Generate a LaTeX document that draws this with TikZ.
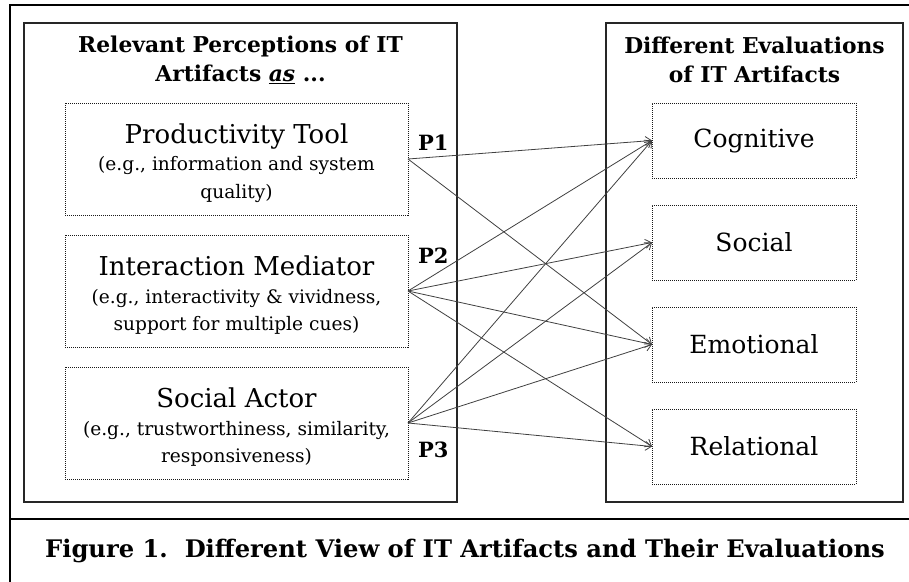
\documentclass[tikz,border=0pt]{standalone}
\usepackage{fontspec}
\setmainfont{DejaVu Serif}
\usepackage{tikz}
\usetikzlibrary{positioning,arrows.meta}

\newcommand{\namefont}{\fontsize{26}{27}\selectfont\rule{0pt}{28pt}}
\newcommand{\exfont}{\fontsize{18.6}{27.5}\selectfont}

\begin{document}
\begin{tikzpicture}[
    x=1pt, y=1pt,
    node distance=20pt,
    panel/.style={rectangle, draw=black!85, line width=1.1pt, minimum height=479pt, outer sep=0pt},
    percbox/.style={rectangle, draw=black!90, densely dotted, line width=1pt, minimum width=343pt, minimum height=112pt, align=center, inner sep=2pt, outer sep=0pt, font=\exfont},
    evalbox/.style={rectangle, draw=black!90, densely dotted, line width=1pt, minimum width=204pt, minimum height=75pt, align=center, outer sep=0pt, font=\fontsize{25}{30}\selectfont},
    head/.style={align=center, font=\fontsize{21.8}{29}\selectfont\bfseries},
    plabel/.style={font=\fontsize{21}{25}\selectfont\bfseries, inner sep=0pt},
    link/.style={-{Straight Barb[length=6pt,width=9pt]}, draw=black!75, line width=0.8pt}
]
\useasboundingbox (0,0) rectangle (909,-581);
\clip (0,0) rectangle (909,-581);

% Frame and caption bar
\draw[line width=2.2pt] (10,-5) rectangle (920,-600);
\draw[line width=2.2pt] (10,-519) -- (920,-519);

% Panels
\node[panel, minimum width=433pt] (lpanel) at (240.5,-262.5) {};
\node[panel, minimum width=297pt] (rpanel) at (754.5,-262.5) {};

% Headings
\node[head] (lhead) at (240.5,-60) {Relevant Perceptions of IT\\Artifacts \underline{\textit{as}} ...};
\node[head] (rhead) at (754.5,-60) {Different Evaluations\\of IT Artifacts};

% Perceptions
\node[percbox] (prod) at (236.5,-159) {{\namefont Productivity Tool}\\
    (e.g., information and system\\ quality)};
\node[percbox, below=of prod] (inter) {{\namefont Interaction Mediator}\\
    (e.g., interactivity \& vividness,\\ support for multiple cues)};
\node[percbox, below=of inter] (actor) {{\namefont Social Actor}\\
    (e.g., trustworthiness, similarity,\\ responsiveness)};

% Evaluations
\node[evalbox] (cog) at (754,-140.5) {Cognitive};
\node[evalbox, below=27pt of cog] (soc) {Social};
\node[evalbox, below=27pt of soc] (emo) {Emotional};
\node[evalbox, below=27pt of emo] (rel) {Relational};

% Propositions
\node[plabel, anchor=west] (p1) at ([xshift=10pt,yshift=16pt]prod.east) {P1};
\node[plabel, anchor=west] (p2) at ([xshift=10pt,yshift=35pt]inter.east) {P2};
\node[plabel, anchor=west] (p3) at ([xshift=10pt,yshift=-27pt]actor.east) {P3};

% Links
\foreach \src/\dst in {prod/cog, prod/emo,
    inter/cog, inter/soc, inter/emo, inter/rel,
    actor/cog, actor/soc, actor/emo, actor/rel}
  \draw[link] (\src.east) -- (\dst.west);

% Caption
\node[font=\fontsize{24.2}{28}\selectfont\bfseries] (caption) at (465,-551)
    {Figure 1.\ \ Different View of IT Artifacts and Their Evaluations};

\end{tikzpicture}
\end{document}
